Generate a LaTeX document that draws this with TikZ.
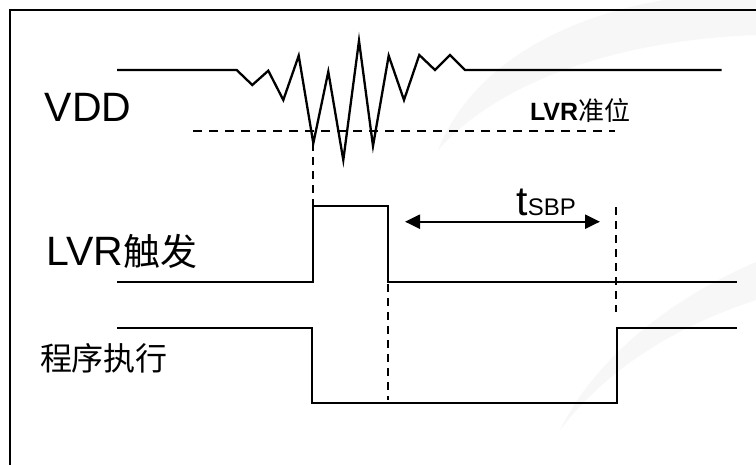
\documentclass[tikz,border=0pt]{standalone}
\usepackage{fontspec}
\setmainfont{Liberation Sans}
\newfontfamily\cjk{Noto Sans CJK SC}
\usetikzlibrary{arrows.meta}
\begin{document}
\begin{tikzpicture}[x=1pt,y=-1pt,
  wave/.style={line width=2.3pt, line join=miter, line cap=butt},
  dashline/.style={line width=2.3pt, dash pattern=on 9pt off 7pt},
  vdashline/.style={line width=2.3pt, dash pattern=on 8pt off 6pt},
  lbl/.style={anchor=base west, inner sep=0pt, outer sep=0pt},
  water/.style={fill=black!3, draw=none}]
\useasboundingbox (0,0) rectangle (756,464);
\clip (0,0) rectangle (756,464);
\fill[white] (0,0) rectangle (756,464);
% faint watermark swooshes
\fill[water] (438,150) .. controls (470,70) and (560,10) .. (700,-5) -- (756,-5) -- (756,35)
  .. controls (620,40) and (500,80) .. (438,150) -- cycle;
\fill[water] (560,430) .. controls (600,350) and (680,295) .. (756,262) -- (756,300)
  .. controls (680,325) and (610,365) .. (560,430) -- cycle;
% frame
\draw[line width=2.5pt] (770,10) -- (10,10) -- (10,480);
% VDD waveform
\draw[wave] (117,70) coordinate (v0) -- (236.7,70) -- (252.3,85) -- (268.3,70.7) -- (283.3,100)
  -- (298.7,55.7) -- (313.3,143.3) coordinate (vmin) -- (328.3,71.7) -- (343.3,160)
  -- (359,40.7) -- (373,146) -- (388.7,55.7) -- (404,100) -- (419.3,55) -- (435,70)
  -- (450,55) -- (465,70) -- (721.7,70) coordinate (v1);
% LVR level
\coordinate (lvl0) at (193,130.7);
\coordinate (lvl1) at (615,130.7);
\draw[dashline] (lvl0) -- (lvl1);
% LVR trigger
\coordinate (t0) at (117,282.3);
\coordinate (tup) at (313.3,282.3);
\coordinate (ttop0) at (313.3,206);
\coordinate (ttop1) at (388,206);
\coordinate (tdn) at (388,282.3);
\coordinate (t1) at (736.7,282.3);
\draw[wave] (t0) -- (tup) -- (ttop0) -- (ttop1) -- (tdn) -- (t1);
% program execution
\coordinate (p0) at (117,328.3);
\coordinate (pdn) at (312.3,328.3);
\coordinate (plow0) at (312.3,403.3);
\coordinate (plow1) at (616.7,403.3);
\coordinate (pup) at (616.7,328.3);
\coordinate (p1) at (736.7,328.3);
\draw[wave] (p0) -- (pdn) -- (plow0) -- (plow1) -- (pup) -- (p1);
% dashed verticals
\draw[vdashline] (vmin) -- (ttop0);
\coordinate (d2a) at (388,284);
\coordinate (d2b) at (388,400);
\draw[vdashline] (d2a) -- (d2b);
\coordinate (d3a) at (616.3,207);
\coordinate (d3b) at (616.3,312);
\draw[vdashline] (d3a) -- (d3b);
% tSBP arrow
\coordinate (a0) at (405,221.7);
\coordinate (a1) at (600,221.7);
\draw[line width=2.3pt, {Triangle[length=15pt,width=14pt]}-{Triangle[length=15pt,width=14pt]}] (a0) -- (a1);
\node[lbl] (tsbp) at (516.5,215) {\fontsize{41}{41}\selectfont t\fontsize{24}{24}\selectfont SBP};
% labels
\node[lbl] (vdd) at (45,121) {\fontsize{41}{41}\selectfont VDD};
\node[lbl] (lvrt) at (46.5,265) {\fontsize{41}{41}\selectfont LVR\fontsize{37}{37}\cjk 触发};
\node[lbl] (prog) at (40,370) {\fontsize{32}{32}\cjk 程序执行};
\node[lbl] (lvrl) at (530,120) {\fontsize{25}{25}\selectfont\bfseries LVR\fontsize{26}{26}\cjk\mdseries 准位};
\end{tikzpicture}
\end{document}
